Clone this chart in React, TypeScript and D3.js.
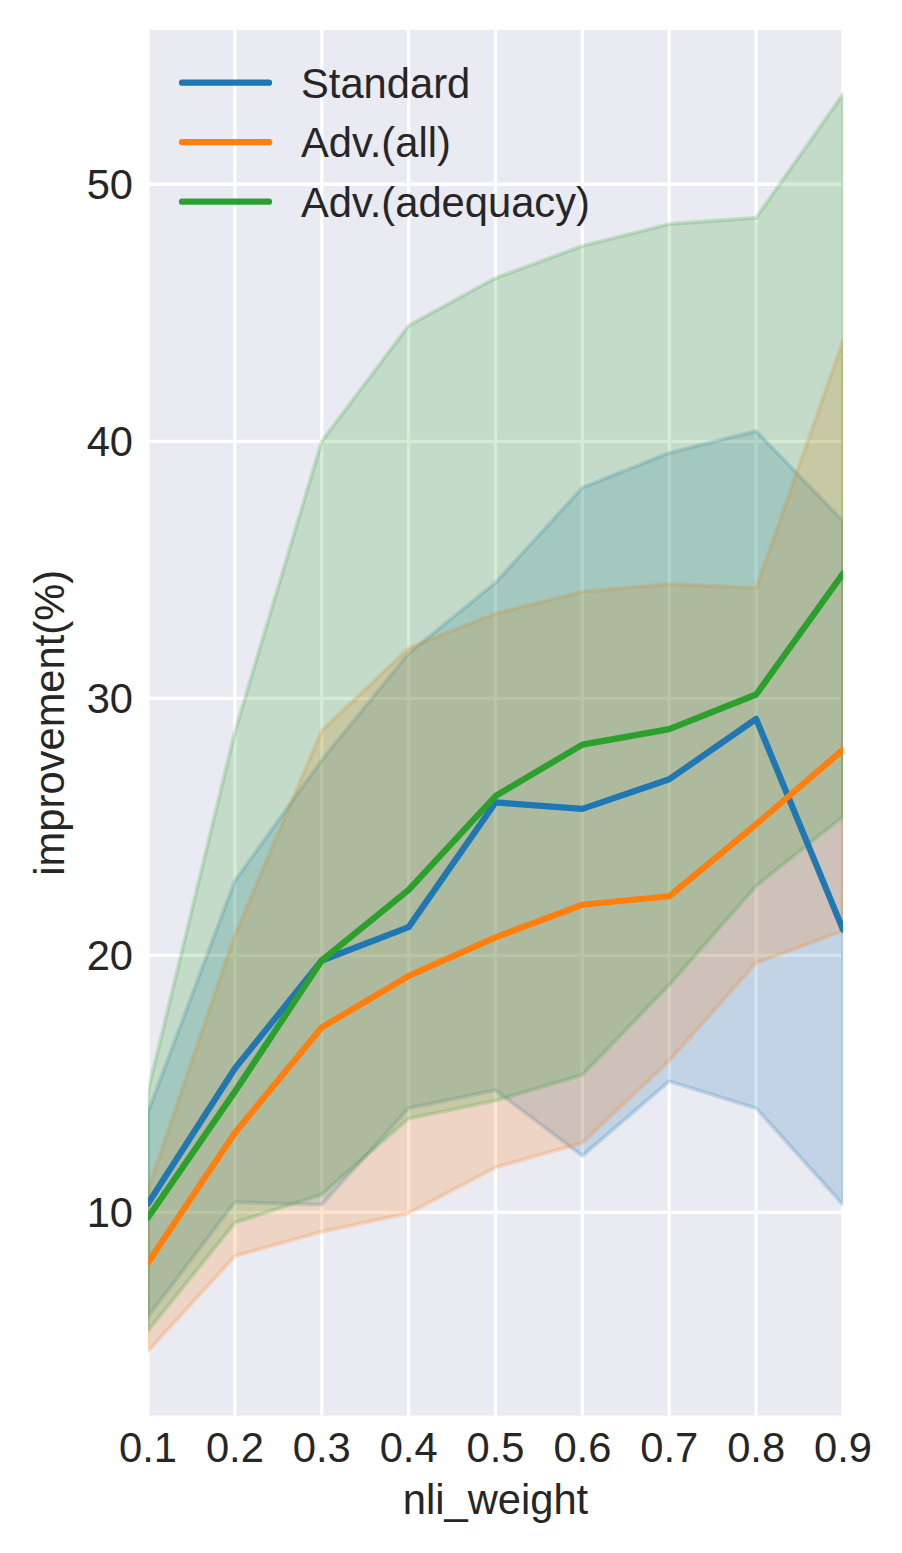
import { useEffect, useRef } from 'react';
import * as d3 from 'd3';

// x values (nli_weight)
const nliWeight = [0.1, 0.2, 0.3, 0.4, 0.5, 0.6, 0.7, 0.8, 0.9];

// Standard
const standardMean = [10.35, 15.6, 19.8, 21.1, 25.95, 25.7, 26.85, 29.2, 21.0];
const standardLow = [5.95, 10.4, 10.3, 14.05, 14.75, 12.2, 15.1, 14.05, 10.3];
const standardHigh = [13.9, 22.9, 27.6, 31.75, 34.5, 38.2, 39.55, 40.4, 36.9];

// Adv.(all)
const advAllMean = [8.05, 13.1, 17.2, 19.2, 20.7, 21.97, 22.3, 25.1, 28.0];
const advAllLow = [4.6, 8.3, 9.25, 9.97, 11.75, 12.7, 15.9, 19.7, 20.95];
const advAllHigh = [10.9, 20.8, 28.75, 31.95, 33.3, 34.15, 34.45, 34.3, 43.9];

// Adv.(adequacy)
const advAdequacyMean = [9.8, 14.7, 19.8, 22.55, 26.2, 28.2, 28.8, 30.15, 34.85];
const advAdequacyLow = [5.4, 9.6, 10.7, 13.65, 14.35, 15.35, 18.85, 22.7, 25.4];
const advAdequacyHigh = [14.7, 28.7, 40.0, 44.5, 46.35, 47.6, 48.45, 48.7, 53.5];

const seriesNames = ['Standard', 'Adv.(all)', 'Adv.(adequacy)'];
const seriesColors = ['#1f77b4', '#ff7f0e', '#2ca02c'];

const xTicks = [0.1, 0.2, 0.3, 0.4, 0.5, 0.6, 0.7, 0.8, 0.9];
const yTicks = [10, 20, 30, 40, 50];

const App = () => {
    const svgRef = useRef<SVGSVGElement>(null);

    useEffect(() => {
        if (!svgRef.current) return;
        document.body.style.margin = '0';

        const svg = d3.select(svgRef.current);
        svg.selectAll('*').remove();

        const W = 902;
        const H = 1553;
        const margin = { top: 30, right: 59, bottom: 137.5, left: 148 };
        const width = W - margin.left - margin.right;
        const height = H - margin.top - margin.bottom;
        const font = '"Liberation Sans", Arial, Helvetica, sans-serif';
        const fs = 41.7;
        const textColor = '#262626';

        svg.attr('width', W).attr('height', H);

        svg.append('rect').attr('width', W).attr('height', H).attr('fill', '#ffffff');

        const g = svg.append('g').attr('transform', `translate(${margin.left},${margin.top})`);

        const x = d3.scaleLinear().domain([0.1, 0.9]).range([0, width]);
        const y = d3.scaleLinear().domain([2.1, 56.0]).range([height, 0]);

        // background
        g.append('rect').attr('width', width).attr('height', height).attr('fill', '#eaeaf2');

        // clip
        svg.append('defs').append('clipPath').attr('id', 'plot-clip')
            .append('rect').attr('width', width).attr('height', height);

        // grid
        const grid = g.append('g');
        grid.selectAll('line.gx').data(xTicks).enter().append('line')
            .attr('x1', d => x(d)).attr('x2', d => x(d))
            .attr('y1', 0).attr('y2', height)
            .attr('stroke', '#ffffff').attr('stroke-width', 3.3);
        grid.selectAll('line.gy').data(yTicks).enter().append('line')
            .attr('x1', 0).attr('x2', width)
            .attr('y1', d => y(d)).attr('y2', d => y(d))
            .attr('stroke', '#ffffff').attr('stroke-width', 3.3);

        const series = [
            { mean: standardMean, low: standardLow, high: standardHigh },
            { mean: advAllMean, low: advAllLow, high: advAllHigh },
            { mean: advAdequacyMean, low: advAdequacyLow, high: advAdequacyHigh },
        ];

        const plot = g.append('g').attr('clip-path', 'url(#plot-clip)');

        // confidence bands (drawn under all lines)
        series.forEach((s, k) => {
            const band = d3.area<number>()
                .x(i => x(nliWeight[i]))
                .y0(i => y(s.low[i]))
                .y1(i => y(s.high[i]));
            plot.append('path')
                .datum(d3.range(nliWeight.length))
                .attr('d', band)
                .attr('fill', seriesColors[k])
                .attr('fill-opacity', 0.2)
                .attr('stroke', seriesColors[k])
                .attr('stroke-opacity', 0.2)
                .attr('stroke-width', 4)
                .attr('stroke-linejoin', 'round');
        });

        // mean lines
        const line = d3.line<number>()
            .x((_, i) => x(nliWeight[i]))
            .y(d => y(d));

        series.forEach((s, k) => {
            plot.append('path')
                .datum(s.mean)
                .attr('d', line)
                .attr('fill', 'none')
                .attr('stroke', seriesColors[k])
                .attr('stroke-width', 6.25)
                .attr('stroke-linejoin', 'round')
                .attr('stroke-linecap', 'round');
        });

        // x tick labels
        g.append('g').selectAll('text').data(xTicks).enter().append('text')
            .attr('x', d => x(d))
            .attr('y', height + 46)
            .attr('text-anchor', 'middle')
            .attr('font-family', font).attr('font-size', fs).attr('fill', textColor)
            .text(d => d3.format('.1f')(d));

        // y tick labels
        g.append('g').selectAll('text').data(yTicks).enter().append('text')
            .attr('x', -15)
            .attr('y', d => y(d) + 15)
            .attr('text-anchor', 'end')
            .attr('font-family', font).attr('font-size', fs).attr('fill', textColor)
            .text(d => String(d));

        // axis labels
        g.append('text')
            .attr('x', width / 2)
            .attr('y', height + 98)
            .attr('text-anchor', 'middle')
            .attr('font-family', font).attr('font-size', fs).attr('fill', textColor)
            .text('nli_weight');

        g.append('text')
            .attr('transform', `translate(${64 - margin.left},${height / 2}) rotate(-90)`)
            .attr('text-anchor', 'middle')
            .attr('font-family', font).attr('font-size', fs).attr('fill', textColor)
            .text('improvement(%)');

        // legend
        const legend = svg.append('g');
        seriesNames.forEach((name, k) => {
            const ly = 82.7 + k * 59.5;
            legend.append('line')
                .attr('x1', 182).attr('x2', 269)
                .attr('y1', ly).attr('y2', ly)
                .attr('stroke', seriesColors[k])
                .attr('stroke-width', 6.25)
                .attr('stroke-linecap', 'round');
            legend.append('text')
                .attr('x', 301)
                .attr('y', ly + 15)
                .attr('font-family', font).attr('font-size', fs).attr('fill', textColor)
                .text(name);
        });
    }, []);

    return (
        <div>
            <svg ref={svgRef}></svg>
        </div>
    );
};

export default App;
